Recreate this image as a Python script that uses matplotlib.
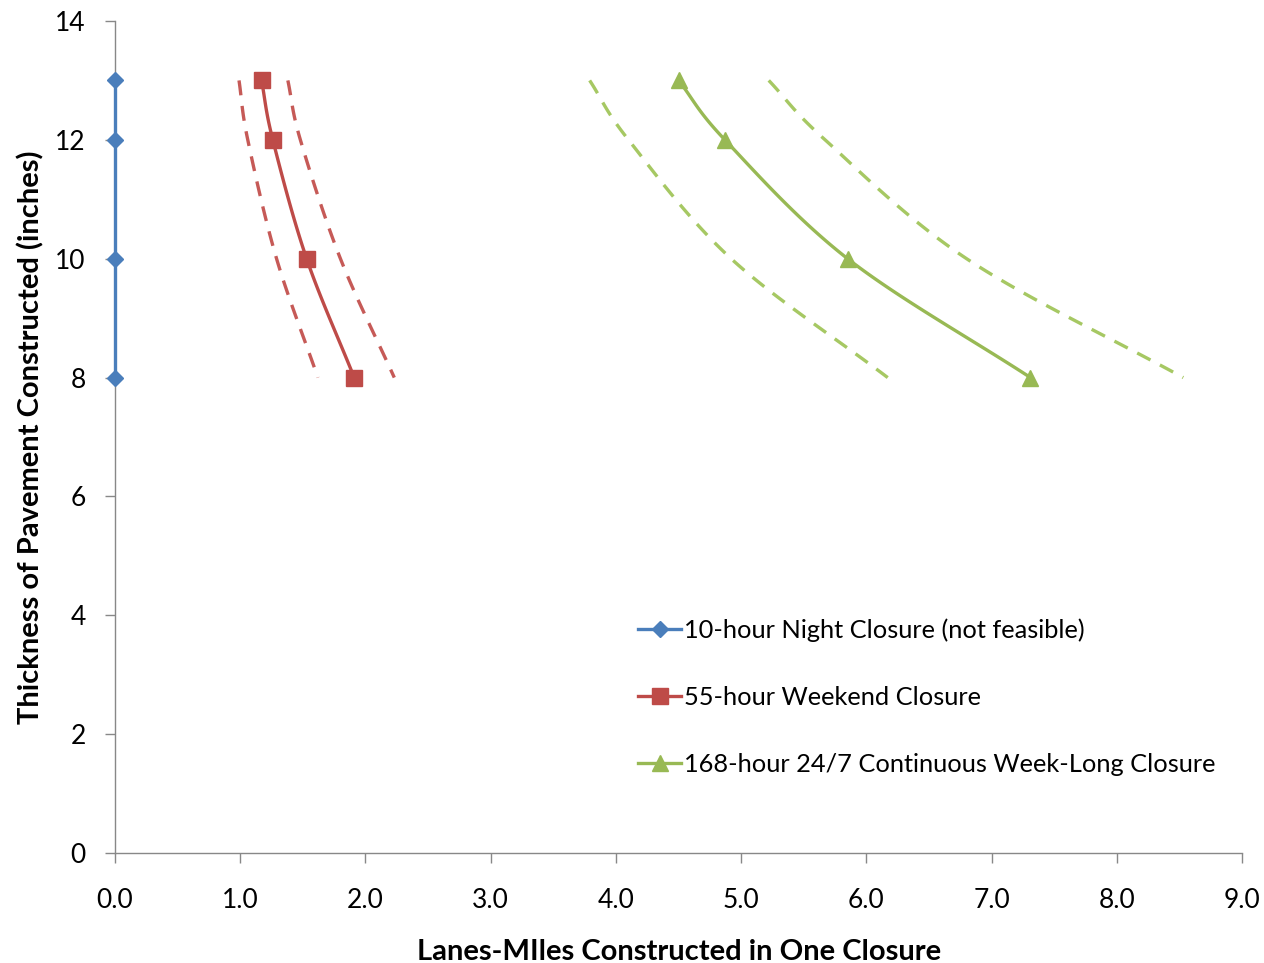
import numpy as np
import matplotlib
matplotlib.use("Agg")
import matplotlib.pyplot as plt

plt.rcParams['font.family'] = ['Lato', 'DejaVu Sans']

thickness = [13, 12, 10, 8]
night_x = [0.0, 0.0, 0.0, 0.0]
weekend_x = [1.17, 1.26, 1.53, 1.91]
weekend_lo = [0.99, 1.06, 1.29, 1.62]
weekend_hi = [1.38, 1.48, 1.80, 2.23]
week_x = [4.50, 4.87, 5.85, 7.31]
week_lo = [3.79, 4.10, 4.92, 6.17]
week_hi = [5.22, 5.67, 6.80, 8.53]

labels = ["10-hour Night Closure (not feasible)",
          "55-hour Weekend Closure",
          "168-hour 24/7 Continuous Week-Long Closure"]
xticks = [0, 1, 2, 3, 4, 5, 6, 7, 8, 9]
yticks = [0, 2, 4, 6, 8, 10, 12, 14]

blue = '#4A7EBB'
red = '#BE4B48'
green = '#98B954'
red_d = '#C65A57'
green_d = '#A6C863'


def smooth(xs, ys, n=40):
    # Catmull-Rom style (Excel-like) smoothing through data points
    p = np.column_stack([xs, ys]).astype(float)
    pts = np.vstack([p[0] - (p[1] - p[0]), p, p[-1] + (p[-1] - p[-2])])
    out = []
    for i in range(1, len(pts) - 2):
        p0, p1, p2, p3 = pts[i - 1], pts[i], pts[i + 1], pts[i + 2]
        c1 = p1 + (p2 - p0) / 6.0
        c2 = p2 - (p3 - p1) / 6.0
        t = np.linspace(0, 1, n)[:, None]
        seg = ((1 - t) ** 3) * p1 + 3 * ((1 - t) ** 2) * t * c1 + 3 * (1 - t) * t ** 2 * c2 + t ** 3 * p2
        out.append(seg if i == 1 else seg[1:])
    s = np.vstack(out)
    return s[:, 0], s[:, 1]


fig = plt.figure(figsize=(12.64, 9.63), dpi=100)
ax = fig.add_axes([0.091, 0.1142, 0.8917, 0.8640])

ax.plot(night_x, thickness, color=blue, lw=2.4, marker='D', ms=8.5, label=labels[0], zorder=4, clip_on=False)

sx, sy = smooth(weekend_x, thickness)
ax.plot(sx, sy, color=red, lw=2.4, zorder=3)
ax.plot(weekend_x, thickness, ls='none', color=red, marker='s', ms=11, zorder=4)
ax.plot([], [], color=red, lw=2.4, marker='s', ms=11, label=labels[1])
for xs in (weekend_lo, weekend_hi):
    dx, dy = smooth(xs, thickness)
    ax.plot(dx, dy, color=red_d, lw=2.4, dashes=(4.5, 3.2), zorder=2)

sx, sy = smooth(week_x, thickness)
ax.plot(sx, sy, color=green, lw=2.4, zorder=3)
ax.plot(week_x, thickness, ls='none', color=green, marker='^', ms=11, zorder=4)
ax.plot([], [], color=green, lw=2.4, marker='^', ms=11, label=labels[2])
for xs in (week_lo, week_hi):
    dx, dy = smooth(xs, thickness)
    ax.plot(dx, dy, color=green_d, lw=2.4, dashes=(4.5, 3.2), zorder=2)

ax.set_xlim(0, 9)
ax.set_ylim(0, 14)
ax.set_xticks(xticks)
ax.set_xticklabels([f"{v:.1f}" for v in xticks])
ax.set_yticks(yticks)
for s in ('top', 'right'):
    ax.spines[s].set_visible(False)
for s in ('left', 'bottom'):
    ax.spines[s].set_color('#888888')
    ax.spines[s].set_linewidth(1.0)
ax.tick_params(axis='both', colors='#888888', labelcolor='black', labelsize=19, length=7, width=1)
ax.tick_params(axis='x', pad=18)
ax.tick_params(axis='y', pad=14)

ax.set_xlabel("Lanes-MIles Constructed in One Closure", fontsize=21, fontweight='bold', labelpad=19)
ax.set_ylabel("Thickness of Pavement Constructed (inches)", fontsize=21, fontweight='bold', labelpad=8)

leg = ax.legend(loc='center left', bbox_to_anchor=(0.464, 0.1875), frameon=False, fontsize=18.3,
                handlelength=1.7, handletextpad=0.1, labelspacing=1.72, borderpad=0, borderaxespad=0)

fig.savefig("out.png", dpi=100)
